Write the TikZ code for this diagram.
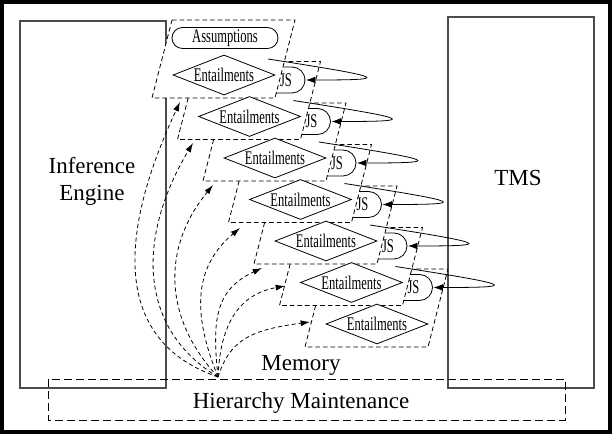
\documentclass[tikz,border=0pt]{standalone}
\usepackage{fontspec}
\setmainfont{Liberation Serif}
\newfontfamily\narrowserif[FakeStretch=0.65]{Liberation Serif}
\usetikzlibrary{arrows.meta,shapes.geometric,shapes.misc}

\begin{document}
\begin{tikzpicture}[x=0.75pt,y=-0.75pt,
  box/.style={draw=black!70,line width=0.9pt},
  bigtext/.style={font=\fontsize{17.25}{20.25}\selectfont,align=center,inner sep=0pt},
  smalltext/.style={font=\narrowserif\fontsize{14.5}{15}\selectfont,inner sep=0pt},
  layer/.style={draw,fill=white,dash pattern=on 3.5pt off 2.2pt,line width=0.6pt},
  gate/.style={draw,fill=white,line width=0.6pt},
  entail/.style={diamond,draw,fill=white,line width=0.6pt,aspect=2.55,
    minimum width=76.5pt,minimum height=30pt,smalltext},
  assume/.style={rounded rectangle,draw,fill=white,line width=0.6pt,
    minimum width=79.5pt,minimum height=15.75pt,smalltext},
  feedback/.style={line width=0.6pt,-{Latex[length=7pt,width=5pt]}},
  update/.style={dash pattern=on 3pt off 2.2pt,line width=0.6pt,
    -{Latex[length=7pt,width=4.5pt]}}
]
\useasboundingbox (0,0) rectangle (612,434);
\draw[line width=3pt] (2,2) rectangle (610,432);

% the two engines
\draw[box] (20,21) rectangle (166,388);
\node[bigtext] (ie) at (92,181) {Inference\\Engine};
\draw[box] (448,17) rectangle (594,388);
\node[bigtext] (tms) at (518,178) {TMS};

% stacked memory layers, lowest first; gate i lies under layer i
\foreach \i in {6,...,0}{
  \pgfmathsetmacro\dx{25.5*\i}
  \pgfmathsetmacro\dy{41.5*\i}
  \ifnum\i<6
    \draw[gate] ({270+\dx},{67+\dy}) -- ({292+\dx},{67+\dy})
      arc[start angle=-90,end angle=90,radius=13] -- ({270+\dx},{93+\dy}) -- cycle;
  \fi
  \draw[layer] ({172+\dx},{20+\dy}) -- ({295+\dx},{20+\dy})
    -- ({275+\dx},{98+\dy}) -- ({152+\dx},{98+\dy}) -- cycle;
}

\node[assume] (assum) at (225,38) {Assumptions};
\foreach \i in {0,...,6}
  \node[entail] (ent\i) at ({224+25.5*\i},{75+41.5*\i}) {Entailments};

% justifications fed back from the TMS
\foreach \i in {0,...,5}{
  \node[smalltext] (js\i) at ({286+25.5*\i},{80+41.5*\i}) {JS};
  \coordinate (fb\i) at ({268+25.5*\i},{59+41.5*\i});
  \coordinate (out\i) at ({306+25.5*\i},{80+41.5*\i});
  \draw[feedback] (fb\i) .. controls +(122,19) and +(85,0) .. (out\i);
}

% hierarchy maintenance
\draw[dash pattern=on 6pt off 3pt,line width=0.6pt] (48,379) rectangle (565,420);
\node[bigtext] (hm) at (301,403) {Hierarchy Maintenance};
\node[bigtext] (mem) at (301,365) {Memory};

\coordinate (src) at (218,377);
\foreach \ex/\ey/\ax/\ay/\bx/\by [count=\k] in
  {180/102/110/340/120/230, 193/143/140/330/135/240, 213/185/165/320/160/250,
   240/228/195/320/190/270, 262/268/212/320/215/290, 285/286/220/330/235/295,
   310/322/230/340/250/330}{
  \coordinate (in\k) at (\ex,\ey);
  \draw[update] (src) .. controls (\ax,\ay) and (\bx,\by) .. (in\k);
}
\end{tikzpicture}
\end{document}
